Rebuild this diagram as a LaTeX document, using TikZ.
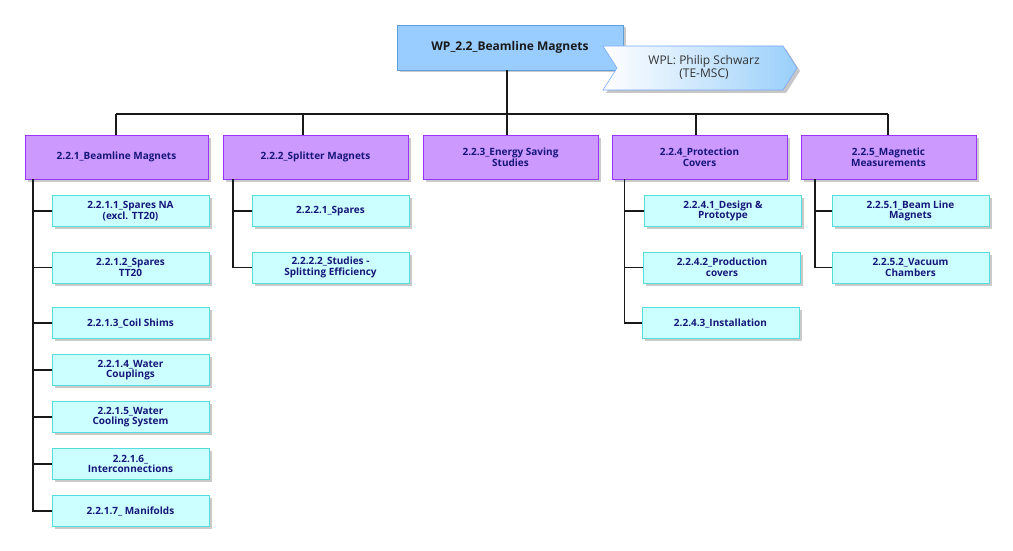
\documentclass[tikz,border=0pt]{standalone}
\usepackage{fontspec}
\setmainfont{Open Sans}
\usetikzlibrary{shadows,shadings}
\definecolor{topfill}{HTML}{99CCFF}
\definecolor{topdraw}{HTML}{5E9EDC}
\definecolor{lvtwofill}{HTML}{CC99FF}
\definecolor{lvtwodraw}{HTML}{9933FF}
\definecolor{lvthreefill}{HTML}{CCFFFF}
\definecolor{lvthreedraw}{HTML}{55DDDD}
\definecolor{navytext}{HTML}{16167A}
\definecolor{wplblue}{HTML}{9ACFFA}
\definecolor{wpltext}{HTML}{333333}
\tikzset{
  boxshadow/.style={drop shadow={shadow xshift=2.5pt,shadow yshift=-2.5pt,opacity=0.35,fill=black!60}},
  topbox/.style={draw=topdraw,fill=topfill,line width=0.8pt,minimum width=226pt,minimum height=45pt,inner sep=0pt,boxshadow,font=\bfseries\fontsize{12}{13}\selectfont,text=black!90},
  lvtwo/.style={draw=lvtwodraw,fill=lvtwofill,line width=0.8pt,minimum height=44pt,inner sep=0pt,align=center,boxshadow,font=\bfseries\fontsize{10}{10.6}\selectfont,text=navytext},
  lvthree/.style={draw=lvthreedraw,fill=lvthreefill,line width=0.8pt,minimum width=157pt,minimum height=31pt,inner sep=0pt,align=center,boxshadow,font=\bfseries\fontsize{10}{10.6}\selectfont,text=navytext},
  conn/.style={line width=1.8pt,black!90}
}
\begin{document}
\begin{tikzpicture}[x=1pt,y=-1pt]
\useasboundingbox (0,0) rectangle (1013,551);
% top box
\node[topbox] (top) at (510,47.5) {WP\_2.2\_Beamline Magnets};
% WPL chevron
\fill[black,opacity=0.22] (606,49) -- (786,49) -- (800,71) -- (786,93) -- (606,93) -- (620,71) -- cycle;
\shade[left color=white,right color=wplblue,draw=wplblue!80!blue,line width=0.6pt]
  (603,46) -- (783,46) -- (797,68) -- (783,90) -- (603,90) -- (617,68) -- cycle;
\node[align=center,text=wpltext,font=\fontsize{12}{11.5}\selectfont] (wpl) at (704,67.5) {WPL: Philip Schwarz\\(TE-MSC)};
% level 2
\node[lvtwo,minimum width=183pt] (b1) at (116.5,157) {2.2.1\_Beamline Magnets};
\node[lvtwo,minimum width=185pt] (b2) at (315.5,157) {2.2.2\_Splitter Magnets};
\node[lvtwo,minimum width=175pt] (b3) at (510.5,157) {2.2.3\_Energy Saving\\Studies};
\node[lvtwo,minimum width=175pt] (b4) at (699.5,157) {2.2.4\_Protection\\Covers};
\node[lvtwo,minimum width=175pt] (b5) at (888.5,157) {2.2.5\_Magnetic\\Measurements};
% level 3 column 1
\node[lvthree] (c11) at (130.5,211) {2.2.1.1\_Spares NA\\(excl. TT20)};
\node[lvthree] (c12) at (130.5,267.5) {2.2.1.2\_Spares\\TT20};
\node[lvthree] (c13) at (130.5,323) {2.2.1.3\_Coil Shims};
\node[lvthree] (c14) at (130.5,370) {2.2.1.4\_Water\\Couplings};
\node[lvthree] (c15) at (130.5,417) {2.2.1.5\_Water\\Cooling System};
\node[lvthree] (c16) at (130.5,464) {2.2.1.6\_\\Interconnections};
\node[lvthree] (c17) at (130.5,511) {2.2.1.7\_ Manifolds};
% column 2
\node[lvthree] (c21) at (330.5,211) {2.2.2.1\_Spares};
\node[lvthree] (c22) at (330.5,267.5) {2.2.2.2\_Studies -\\Splitting Efficiency};
% column 4
\node[lvthree] (c41) at (723,211) {2.2.4.1\_Design \&\\Prototype};
\node[lvthree] (c42) at (722,267.5) {2.2.4.2\_Production\\covers};
\node[lvthree] (c43) at (720.5,323) {2.2.4.3\_Installation};
% column 5
\node[lvthree] (c51) at (910.5,211) {2.2.5.1\_Beam Line\\Magnets};
\node[lvthree] (c52) at (910.5,267.5) {2.2.5.2\_Vacuum\\Chambers};
% connectors top
\coordinate (t0) at (507,70);
\coordinate (busL) at (116,114);
\coordinate (busR) at (888,114);
\coordinate (d1) at (116,114);
\coordinate (d2) at (303,114);
\coordinate (d3) at (507,114);
\coordinate (d4) at (696,114);
\coordinate (d5) at (888,114);
\draw[conn] (t0) -- (d3);
\draw[conn] (busL) -- (busR);
\draw[conn] (d1) -- (d1 |- b1.north);
\draw[conn] (d2) -- (d2 |- b2.north);
\draw[conn] (d3) -- (d3 |- b3.north);
\draw[conn] (d4) -- (d4 |- b4.north);
\draw[conn] (d5) -- (d5 |- b5.north);
% column connectors
\coordinate (v1) at (33,179);
\coordinate (v2) at (233,179);
\coordinate (v4) at (624.5,179);
\coordinate (v5) at (815,179);
\foreach \n in {c11,c12,c13,c14,c15,c16,c17} \draw[conn] (v1) |- (\n.west);
\foreach \n in {c21,c22} \draw[conn] (v2) |- (\n.west);
\foreach \n in {c41,c42,c43} \draw[conn] (v4) |- (\n.west);
\foreach \n in {c51,c52} \draw[conn] (v5) |- (\n.west);
\end{tikzpicture}
\end{document}
